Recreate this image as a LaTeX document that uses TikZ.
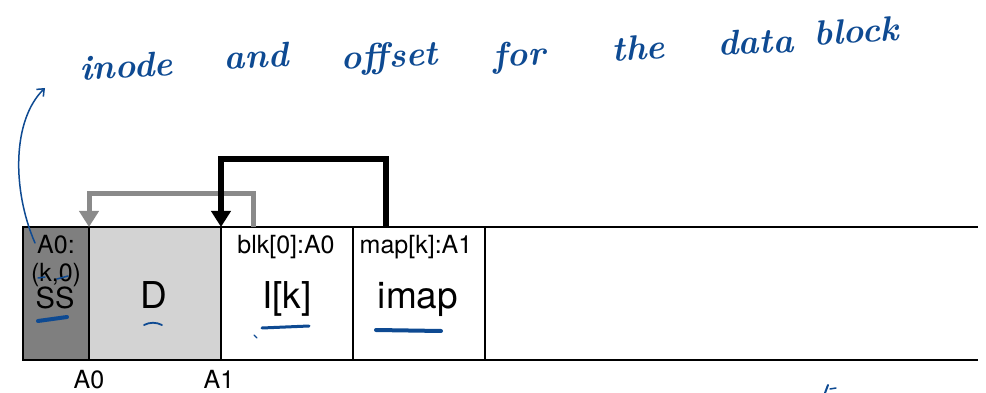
\documentclass[tikz,border=0pt]{standalone}
\usepackage{fontspec}
\setmainfont{TeX Gyre Heros}
\newfontfamily\handfont{Latin Modern Roman}
\usetikzlibrary{arrows.meta}
\definecolor{inkblue}{HTML}{0E4A92}
\definecolor{ssgray}{HTML}{7F7F7F}
\definecolor{dgray}{HTML}{D3D3D3}
\definecolor{ptrgray}{HTML}{8A8A8A}
\begin{document}
\begin{tikzpicture}[x=1pt,y=-1pt,
  cell/.style={draw=black, line width=1.3pt, minimum height=133pt, inner sep=0pt, outer sep=0pt},
  small/.style={font=\fontsize{25}{28}\selectfont, anchor=base, inner sep=0pt},
  big/.style={font=\fontsize{37}{40}\selectfont, anchor=base, inner sep=0pt},
  ptr/.style={line width=5pt, -{Triangle[width=19pt,length=16pt]}},
  ink/.style={draw=inkblue, line cap=round, line join=round},
  hand/.style={font=\handfont\bfseries\itshape\fontsize{35}{40}\selectfont, text=inkblue, anchor=base, inner sep=0pt, rotate=3}]
\useasboundingbox (0,0) rectangle (986,393);

% memory cells
\node[cell, fill=ssgray, minimum width=66pt]  (ss)   at (56,293.5)  {};
\node[cell, fill=dgray,  minimum width=132pt] (d)    at (155,293.5) {};
\node[cell, fill=white,  minimum width=132pt] (ik)   at (287,293.5) {};
\node[cell, fill=white,  minimum width=132pt] (imap) at (419,293.5) {};
\coordinate (endtop) at (978,227);
\coordinate (endbot) at (978,360);
\draw[line width=1.3pt] (imap.north east) -- (endtop);
\draw[line width=1.3pt] (imap.south east) -- (endbot);

% cell contents
\node[small] (la0)   at (56,253)  {A0:};
\node[small] (lk0)   at (56,281)  {(k,0)};
\node[font=\fontsize{29}{32}\selectfont, anchor=base, inner sep=0pt] (lss) at (55,308) {SS};
\node[big]   (ld)    at (154,308) {D};
\node[small] (lblk)  at (286,253) {blk[0]:A0};
\node[big]   (lik)   at (287,308) {I[k]};
\node[small] (lmap)  at (416,253) {map[k]:A1};
\node[big]   (limap) at (418,308) {imap};
\node[small] (ba0)   at (89,388)  {A0};
\node[small] (ba1)   at (219,388) {A1};

% pointers
\draw[ptr, draw=ptrgray] ([xshift=32pt]ik.north west) |- ([yshift=33pt]ss.north east) -- (ss.north east);
\draw[ptr, line width=6pt] ([xshift=33pt]imap.north west) |- ([yshift=68pt]d.north east) -- (d.north east);

% handwritten note
\node[hand] (w1) at (127,78) {inode};
\node[hand] (w2) at (257,68) {and};
\node[hand] (w3) at (390,67) {offset};
\node[hand] (w4) at (520,66) {for};
\node[hand] (w5) at (639,60) {the};
\node[hand] (w6) at (756,54) {data};
\node[hand] (w7) at (857,43) {block};
\coordinate (cstart) at (35,243);
\coordinate (ctip) at (45,88);
\draw[ink, line width=1.5pt, -{Straight Barb[length=6pt,width=10pt]}] (cstart) .. controls (12,190) and (12,120) .. (ctip);

% handwritten underlines
\draw[ink, line width=1.5pt] (38,278) -- (45,277);
\draw[ink, line width=1.5pt] (57,279) -- (68,276);
\draw[ink, line width=4pt] (38,321) -- (67,317);
\draw[ink, line width=1.8pt] (144,325) .. controls (150,322) and (156,322) .. (162,325);
\draw[ink, line width=3pt] (262,328) -- (309,326);
\draw[ink, line width=1.2pt] (254,335) -- (257,338);
\draw[ink, line width=4pt] (376,330) -- (441,331);
\draw[ink, line width=2pt] (825,393) -- (828,385);
\draw[ink, line width=1.5pt] (830,389) -- (836,388);
\end{tikzpicture}
\end{document}
